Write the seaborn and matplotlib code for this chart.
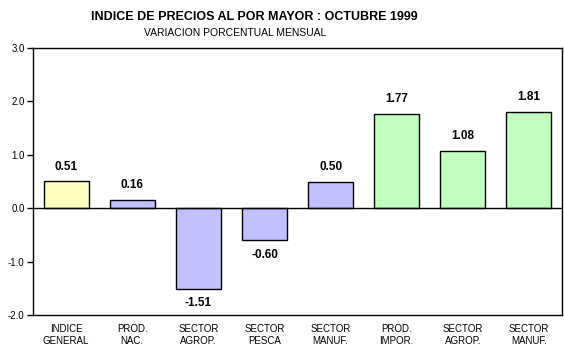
import numpy as np
import pandas as pd
import matplotlib
matplotlib.use("Agg")
from matplotlib import pyplot as plt
import seaborn as sns

categories = ["INDICE\nGENERAL", "PROD.\nNAC.", "SECTOR\nAGROP.", "SECTOR\nPESCA",
              "SECTOR\nMANUF.", "PROD.\nIMPOR.", "SECTOR\nAGROP.", "SECTOR\nMANUF."]
values = [0.51, 0.16, -1.51, -0.60, 0.50, 1.77, 1.08, 1.81]
bar_colors = ["#FFFFC0", "#C0C0FF", "#C0C0FF", "#C0C0FF", "#C0C0FF",
              "#C0FFC0", "#C0FFC0", "#C0FFC0"]

sns.set_style("white")
plt.rcParams["font.family"] = ["Liberation Sans", "DejaVu Sans"]
plt.rcParams["text.color"] = "black"
plt.rcParams["xtick.color"] = "black"
plt.rcParams["ytick.color"] = "black"

df = pd.DataFrame({"pos": range(len(values)), "valor": values})

fig = plt.figure(figsize=(5.64, 3.54), dpi=100)
ax = fig.add_axes([33 / 564, 1 - 315 / 354, 529 / 564, 267 / 354])

sns.barplot(data=df, x="pos", y="valor", hue="pos", palette=bar_colors,
            legend=False, edgecolor="black", linewidth=1, width=0.68, ax=ax,
            saturation=1)

for cont in ax.containers:
    ax.bar_label(cont, fmt="%.2f", padding=6, fontsize=8.5, fontweight="bold")

ax.axhline(0, color="black", lw=1)
ax.set_ylim(-2, 3)
ax.set_xlim(-0.5, len(values) - 0.5)
ax.set_yticks(np.arange(-2, 3.1, 1))
ax.set_yticklabels([f"{t:.1f}" for t in np.arange(-2, 3.1, 1)], fontsize=7)
ax.set_xticks(range(len(values)))
ax.set_xticklabels(categories, fontsize=7)
ax.tick_params(axis="y", left=True, length=4, width=1, color="black", pad=2)
ax.tick_params(axis="x", bottom=False, pad=3)
ax.set_xlabel("")
ax.set_ylabel("")
for s in ax.spines.values():
    s.set_color("black")
    s.set_linewidth(1)

fig.text(254 / 564, 1 - 17 / 354, "INDICE DE PRECIOS AL POR MAYOR : OCTUBRE 1999",
         ha="center", va="center", fontsize=9, fontweight="bold")
fig.text(235 / 564, 1 - 33 / 354, "VARIACION PORCENTUAL MENSUAL",
         ha="center", va="center", fontsize=7.5)

fig.savefig("out.png", dpi=100)
